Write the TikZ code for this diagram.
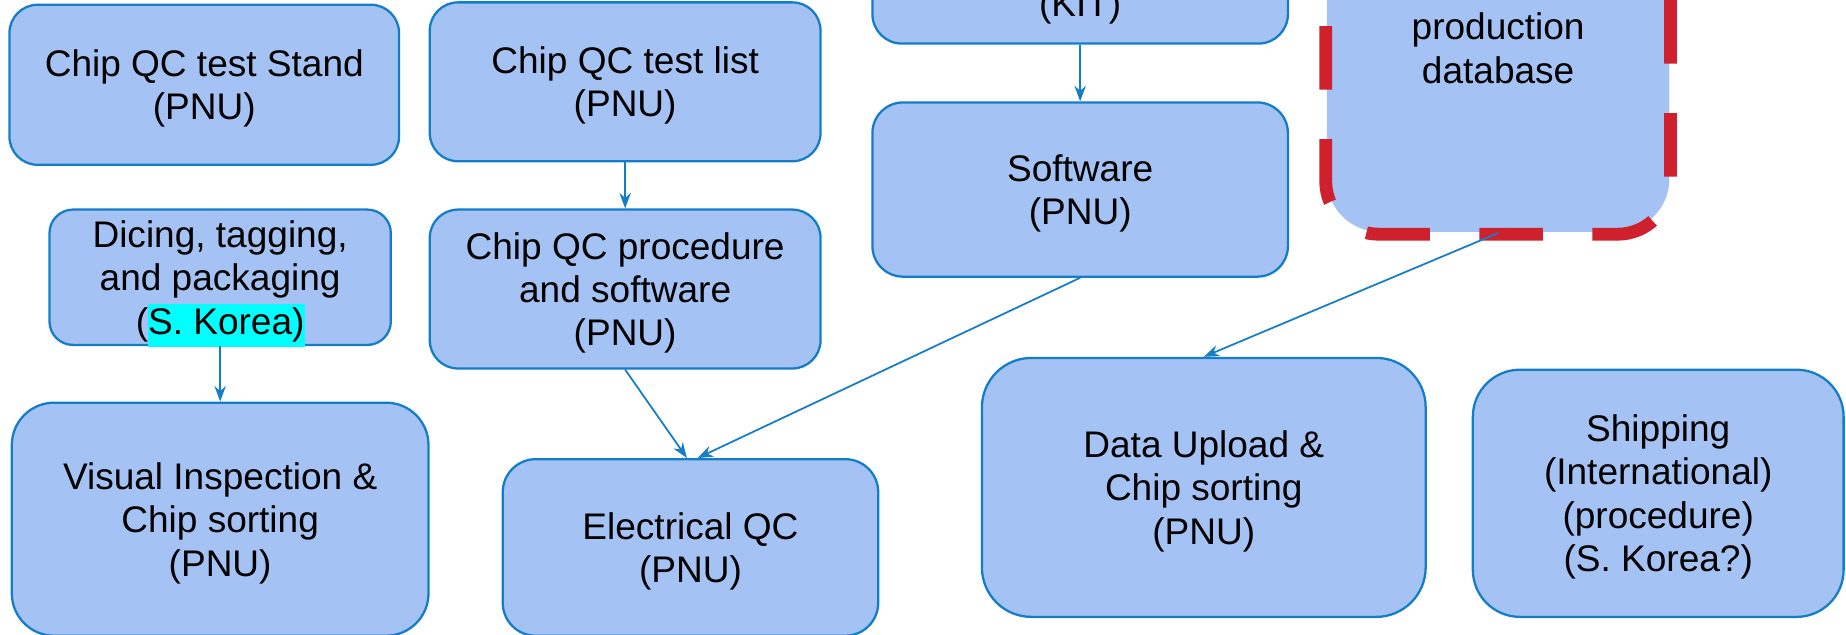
\documentclass[tikz,border=0pt]{standalone}
\usepackage{fontspec}
\setmainfont{Liberation Sans}
\usepackage{tikz}
\usetikzlibrary{calc, arrows.meta}
\definecolor{boxfill}{HTML}{A4C2F4}
\definecolor{boxline}{RGB}{20,125,200}
\definecolor{dbred}{RGB}{207,32,46}
\definecolor{mark}{RGB}{0,255,255}
\setlength{\fboxsep}{0pt}

\begin{document}
\begin{tikzpicture}[x=0.02cm, y=-0.02cm,
    box/.style={draw=boxline, fill=boxfill, line width=1.1pt, align=center, inner sep=0pt,
      text depth=0pt, font=\fontsize{17.9}{21}\selectfont},
    arr/.style={draw=boxline, line width=0.85pt, -{Stealth[length=7.5pt, width=5.5pt]}},
    dbline/.style={draw=dbred, line width=6.2pt, rounded corners=0.9cm,
      dash pattern=on 1.08cm off 0.84cm, dash phase=0.54cm}]
  \clip (0, 0) rectangle (1568, 538.6);
  % top row
  \node[box, rounded corners=0.48cm, minimum width=6.62cm, minimum height=2.72cm] (stand) at (173.5, 72) {Chip QC test Stand\\(PNU)};
  \node[box, rounded corners=0.48cm, minimum width=6.64cm, minimum height=2.7cm] (list) at (531, 69.5) {Chip QC test list\\(PNU)};
  \node[box, rounded corners=0.5cm, minimum width=7.06cm, minimum height=1.36cm] (kit) at (917.5, 3) {(KIT)};
  \node[box, draw=none, rounded corners=0.9cm, minimum width=5.82cm, minimum height=6.24cm] (db) at (1272.5, 41) {production\\database};
  \draw[dbline] ($(db.south) + (11, 1)$) -| (db.north east);
  \draw[dbline] ($(db.south) + (11, 1)$) -| (db.north west);
  % middle row
  \node[box, rounded corners=0.52cm, minimum width=7.06cm, minimum height=2.96cm] (sw) at (917.5, 161) {Software\\(PNU)};
  \node[box, rounded corners=0.4cm, minimum width=5.8cm, minimum height=2.3cm] (dice) at (187, 235.5) {Dicing, tagging,\\and packaging\\(\colorbox{mark}{\strut S. Korea)}};
  \node[box, rounded corners=0.48cm, minimum width=6.64cm, minimum height=2.7cm] (proc) at (531, 245.5) {Chip QC procedure\\and software\\(PNU)};
  % bottom row
  \node[box, rounded corners=0.72cm, minimum width=7.08cm, minimum height=3.96cm] (vis) at (187, 441) {Visual Inspection \&\\Chip sorting\\(PNU)};
  \node[box, rounded corners=0.56cm, minimum width=6.38cm, minimum height=3cm] (eqc) at (586.5, 465) {Electrical QC\\(PNU)};
  \node[box, rounded corners=0.84cm, minimum width=7.54cm, minimum height=4.4cm] (up) at (1022.5, 414) {Data Upload \&\\Chip sorting\\(PNU)};
  \node[box, rounded corners=0.8cm, minimum width=6.3cm, minimum height=4.2cm] (ship) at (1408.5, 419) {Shipping\\(International)\\(procedure)\\(S. Korea?)};
  % connectors
  \draw[arr] (kit) -- (sw);
  \draw[arr] (list) -- (proc);
  \draw[arr] (dice) -- (vis);
  \draw[arr] (proc.south) -- ($(eqc.north) - (3, 0)$);
  \draw[arr] (sw.south) -- ($(eqc.north) + (6, 0)$);
  \draw[arr] (db.south) -- (up.north);
\end{tikzpicture}
\end{document}
